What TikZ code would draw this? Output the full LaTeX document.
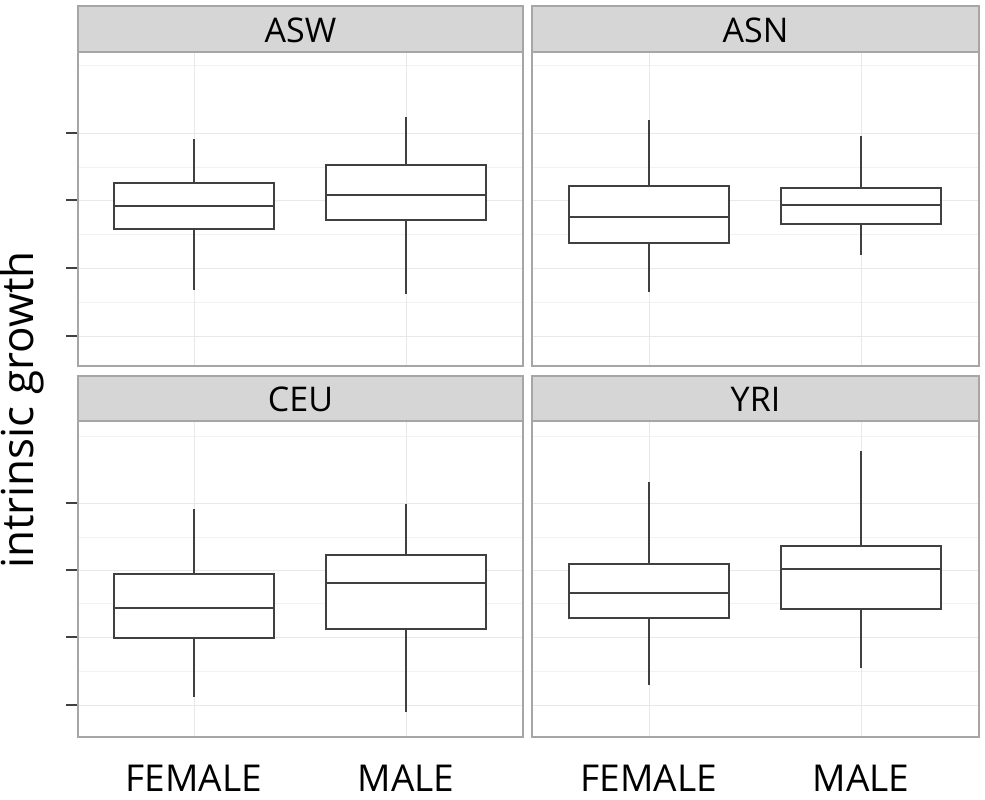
\documentclass[tikz,border=0pt]{standalone}
\usepackage{fontspec}
\setmainfont{Open Sans}
\begin{document}
\begin{tikzpicture}[x=1pt,y=-1pt,
  hdr/.style={fill=black!16,draw=black!35,line width=1.2pt},
  body/.style={draw=black!35,line width=1.2pt},
  majg/.style={draw=black!9,line width=1pt},
  ming/.style={draw=black!5,line width=0.8pt},
  bx/.style={draw=black!75,line width=2.4pt},
  lab/.style={font=\fontsize{37}{40}\selectfont}]
\useasboundingbox (0,0) rectangle (985,800);
\foreach \px/\pr/\hy/\by/\bb/\name in {78/523/6/52/366/ASW, 532/979/6/52/366/ASN, 78/523/376/421/737/CEU, 532/979/376/421/737/YRI}{
  \draw[hdr] (\px,\hy) rectangle (\pr,\by);
  \node[font=\fontsize{34}{36}\selectfont] at ({(\px+\pr)/2},{(\hy+\by)/2+1}) {\name};
}
\foreach \y in {65,167,234,302}{\draw[ming] (78,\y)--(523,\y); \draw[ming] (532,\y)--(979,\y);}
\foreach \y in {133,200,268,336}{\draw[majg] (78,\y)--(523,\y); \draw[majg] (532,\y)--(979,\y); \draw[black!75,line width=1.2pt] (66,\y)--(78,\y);}
\foreach \y in {436,537,603,671}{\draw[ming] (78,\y)--(523,\y); \draw[ming] (532,\y)--(979,\y);}
\foreach \y in {503,570,637,705}{\draw[majg] (78,\y)--(523,\y); \draw[majg] (532,\y)--(979,\y); \draw[black!75,line width=1.2pt] (66,\y)--(78,\y);}
\foreach \x in {194,406,649,861}{\draw[majg] (\x,52)--(\x,366); \draw[majg] (\x,421)--(\x,737);}
\draw[body] (78,52) rectangle (523,366);
\draw[body] (532,52) rectangle (979,366);
\draw[body] (78,421) rectangle (523,737);
\draw[body] (532,421) rectangle (979,737);
\foreach \c/\t/\u/\m/\l/\b in {194/139/183/206/229/290, 406/117/165/195/220/294,
  649/120/186/217/243/292, 861/136/188/205/224/255,
  194/509/574/608/638/697, 406/504/555/583/629/712,
  649/482/564/593/618/685, 861/451/546/569/609/668}{
  \draw[bx] (\c,\t)--(\c,\u) (\c,\l)--(\c,\b);
  \draw[bx,fill=white] ({\c-80},\u) rectangle ({\c+80},\l);
  \draw[bx] ({\c-80},\m)--({\c+80},\m);
}
\node[lab] (f1) at (194,778) {FEMALE};
\node[lab] (m1) at (406,778) {MALE};
\node[lab] (f2) at (649,778) {FEMALE};
\node[lab] (m2) at (861,778) {MALE};
\node[rotate=90,font=\fontsize{44}{48}\selectfont] (yl) at (22,410) {intrinsic growth};
\end{tikzpicture}
\end{document}
